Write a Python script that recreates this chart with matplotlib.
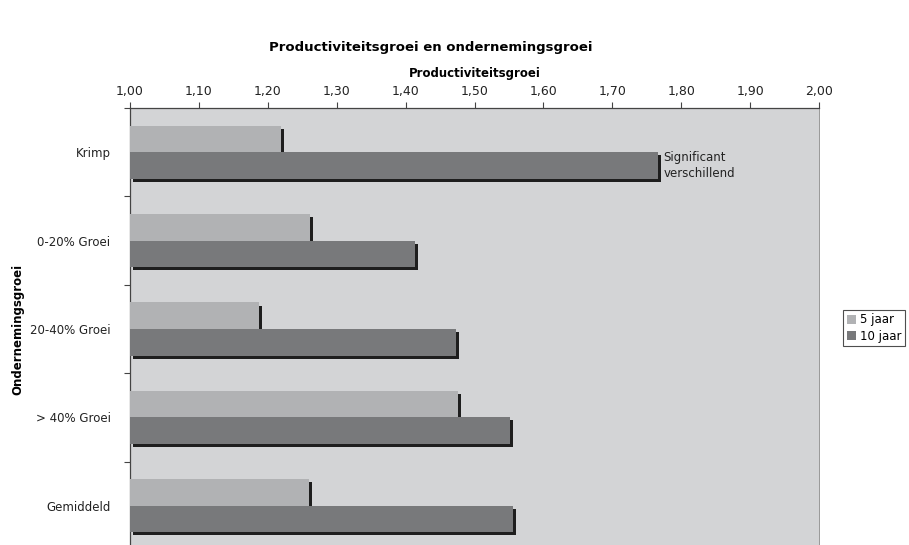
import matplotlib
matplotlib.use("Agg")
import matplotlib.pyplot as plt
import matplotlib.patheffects as pe
from matplotlib.patches import Patch
import numpy as np

categories = ["Krimp", "0-20% Groei", "20-40% Groei", "> 40% Groei", "Gemiddeld"]
series_names = ["5 jaar", "10 jaar"]
vals_5 = [1.219, 1.261, 1.187, 1.476, 1.260]
vals_10 = [1.766, 1.414, 1.473, 1.552, 1.556]
xticks = [1.0, 1.1, 1.2, 1.3, 1.4, 1.5, 1.6, 1.7, 1.8, 1.9, 2.0]
xtick_labels = ["1,00", "1,10", "1,20", "1,30", "1,40", "1,50", "1,60", "1,70", "1,80", "1,90", "2,00"]
colors = ["#b1b2b4", "#78797b"]

plt.rcParams["font.family"] = ["DejaVu Sans"]

fig = plt.figure(figsize=(9.09, 5.45), dpi=100)
ax = fig.add_axes([130/909, 1 - 550/545, (819-130)/909, (550-108)/545])
ax.set_facecolor("#d3d4d6")

y = np.arange(len(categories))
h = 0.3
shadow = [pe.SimplePatchShadow(offset=(2.2, -2.2), shadow_rgbFace="#1e1e1e", alpha=1.0), pe.Normal()]
base = 1.0
b1 = ax.barh(y - h/2, np.array(vals_5) - base, left=base, height=h, color=colors[0], zorder=3)
b2 = ax.barh(y + h/2, np.array(vals_10) - base, left=base, height=h, color=colors[1], zorder=4)
for bar in list(b1) + list(b2):
    bar.set_path_effects(shadow)

ax.set_xlim(1.0, 2.0)
ax.set_ylim(len(categories) - 0.5, -0.5)
ax.xaxis.tick_top()
ax.xaxis.set_label_position("top")
ax.set_xticks(xticks)
ax.set_xticklabels(xtick_labels, fontsize=9, color="#222222")
ax.tick_params(axis="x", direction="out", length=4, width=0.8, color="#444444", pad=3)
ax.set_xlabel("Productiviteitsgroei", fontsize=8.5, fontweight="bold", labelpad=6)

ax.set_yticks(y)
ax.set_yticklabels(categories, fontsize=8.5, color="#222222")
ax.tick_params(axis="y", which="major", length=0, pad=14)
ax.set_yticks(np.arange(-0.5, len(categories), 1.0), minor=True)
ax.tick_params(axis="y", which="minor", direction="out", length=4, width=0.8, color="#444444")
ax.set_ylabel("Ondernemingsgroei", fontsize=8.5, fontweight="bold")
ax.yaxis.set_label_coords((24 - 130) / 689, 0.5)

for s in ["left", "top"]:
    ax.spines[s].set_color("#444444")
    ax.spines[s].set_linewidth(0.9)
ax.spines["right"].set_color("#888888")
ax.spines["right"].set_linewidth(0.6)
ax.spines["bottom"].set_visible(False)

ax.text(vals_10[0] + 0.008, 0 + h/2, "Significant\nverschillend", fontsize=8.5,
        color="#222222", va="center", ha="left", linespacing=1.3, zorder=5)

fig.text(431/909, 1 - 47/545, "Productiviteitsgroei en ondernemingsgroei", fontsize=9.5,
         fontweight="bold", ha="center", va="center")

handles = [Patch(facecolor=c, edgecolor="none") for c in colors]
leg = fig.legend(handles=handles, labels=series_names, loc="center left",
                 bbox_to_anchor=(843/909, 1 - 328/545), fontsize=8.5, frameon=True,
                 fancybox=False, edgecolor="#222222", handlelength=0.8, handleheight=0.8,
                 handletextpad=0.3, borderpad=0.3, labelspacing=0.3, borderaxespad=0)
leg.get_frame().set_linewidth(0.8)

fig.savefig("out.png", dpi=100)
